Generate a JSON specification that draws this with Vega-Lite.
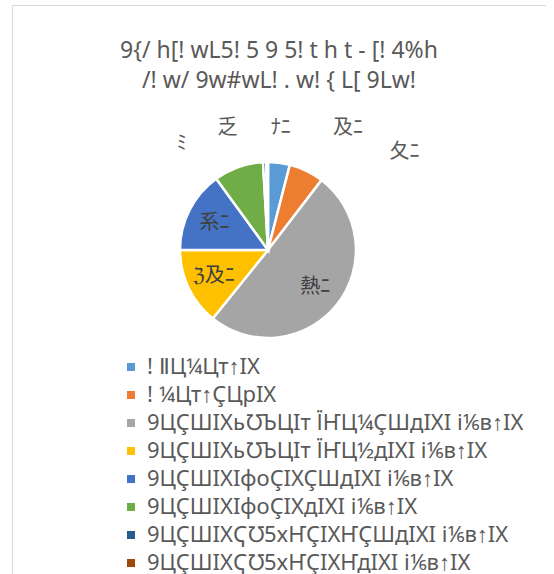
{
  "$schema": "https://vega.github.io/schema/vega-lite/v6.json",
  "autosize": "none",
  "width": 534,
  "height": 620,
  "padding": {"top": 5, "left": 12, "right": 0, "bottom": 0},
  "background": "white",
  "view": {"stroke": "#d9d9d9", "strokeWidth": 1, "fill": "white"},
  "title": {
    "text": ["9{/ h[!  wL5!  5 9 5!  t h t - [!  4%h", "/!  w/ 9w#wL!   .  w!  { L[ 9Lw!"],
    "orient": "top",
    "anchor": "middle",
    "offset": -88,
    "font": "Noto Sans",
    "fontSize": 23,
    "fontWeight": "normal",
    "color": "#595959",
    "lineHeight": 30
  },
  "data": {
    "values": [
      {"idx": 1, "cat": "! ⅡЦ¼Цт↑IX", "value": 4.0, "label": "及ﾆ"},
      {"idx": 2, "cat": "! ¼Цт↑ÇЦрIX", "value": 6.4, "label": "夂ﾆ"},
      {"idx": 3, "cat": "9ЦÇШIXь℧ЪЦIт ЇҤЦ¼ÇШдIXI i⅙в↑IX", "value": 50.4, "label": "熱ﾆ"},
      {"idx": 4, "cat": "9ЦÇШIXь℧ЪЦIт ЇҤЦ½дIXI i⅙в↑IX", "value": 14.2, "label": "ℨ及ﾆ"},
      {"idx": 5, "cat": "9ЦÇШIXIфоÇIXÇШдIXI i⅙в↑IX", "value": 15.0, "label": "系ﾆ"},
      {"idx": 6, "cat": "9ЦÇШIXIфоÇIXдIXI i⅙в↑IX", "value": 9.1, "label": "ﾐ"},
      {"idx": 7, "cat": "9ЦÇШIXҀ℧5xҤÇIXҤÇШдIXI i⅙в↑IX", "value": 0.6, "label": "乏"},
      {"idx": 8, "cat": "9ЦÇШIXҀ℧5xҤÇIXҤдIXI i⅙в↑IX", "value": 0.3, "label": "ﾅﾆ"}
    ]
  },
  "encoding": {
    "theta": {"field": "value", "type": "quantitative", "stack": true},
    "order": {"field": "idx", "type": "quantitative"}
  },
  "layer": [
    {
      "mark": {"type": "arc", "radius": 88, "stroke": "white", "strokeWidth": 2.5, "x": 256, "y": 245},
      "encoding": {
        "color": {
          "field": "cat",
          "type": "nominal",
          "scale": {
            "domain": ["! ⅡЦ¼Цт↑IX", "! ¼Цт↑ÇЦрIX", "9ЦÇШIXь℧ЪЦIт ЇҤЦ¼ÇШдIXI i⅙в↑IX", "9ЦÇШIXь℧ЪЦIт ЇҤЦ½дIXI i⅙в↑IX", "9ЦÇШIXIфоÇIXÇШдIXI i⅙в↑IX", "9ЦÇШIXIфоÇIXдIXI i⅙в↑IX", "9ЦÇШIXҀ℧5xҤÇIXҤÇШдIXI i⅙в↑IX", "9ЦÇШIXҀ℧5xҤÇIXҤдIXI i⅙в↑IX"],
            "range": ["#5B9BD5", "#ED7D31", "#A5A5A5", "#FFC000", "#4472C4", "#70AD47", "#255E91", "#9E480E"]
          },
          "legend": {
            "title": null,
            "orient": "none",
            "legendX": 108,
            "legendY": 351,
            "symbolType": "square",
            "symbolSize": 64,
            "symbolStrokeWidth": 0,
            "labelFont": "Noto Sans",
            "labelFontSize": 22,
            "labelColor": "#595959",
            "labelLimit": 500,
            "labelOffset": 5,
            "rowPadding": 6
          }
        }
      }
    },
    {
      "mark": {"type": "text", "radius": 60, "x": 256, "y": 245, "font": "Noto Sans CJK JP", "fontSize": 20, "color": "#404040"},
      "encoding": {"text": {"condition": {"test": "datum.idx == 3 || datum.idx == 4 || datum.idx == 5", "field": "label"}, "value": ""}}
    },
    {
      "mark": {"type": "text", "radius": 120, "x": 256, "y": 245, "dx": 65, "dy": -3, "font": "Noto Sans CJK JP", "fontSize": 20, "color": "#595959"},
      "encoding": {"text": {"condition": {"test": "datum.idx == 1", "field": "label"}, "value": ""}}
    },
    {
      "mark": {"type": "text", "radius": 120, "x": 256, "y": 245, "dx": 84, "dy": 10, "font": "Noto Sans CJK JP", "fontSize": 20, "color": "#595959"},
      "encoding": {"text": {"condition": {"test": "datum.idx == 2", "field": "label"}, "value": ""}}
    },
    {
      "mark": {"type": "text", "radius": 120, "x": 256, "y": 245, "dx": -46, "dy": 7, "font": "Noto Sans CJK JP", "fontSize": 20, "color": "#595959"},
      "encoding": {"text": {"condition": {"test": "datum.idx == 6", "field": "label"}, "value": ""}}
    },
    {
      "mark": {"type": "text", "radius": 120, "x": 256, "y": 245, "dx": -36, "dy": -2, "font": "Noto Sans CJK JP", "fontSize": 20, "color": "#595959"},
      "encoding": {"text": {"condition": {"test": "datum.idx == 7", "field": "label"}, "value": ""}}
    },
    {
      "mark": {"type": "text", "radius": 120, "x": 256, "y": 245, "dx": 14, "dy": -2, "font": "Noto Sans CJK JP", "fontSize": 20, "color": "#595959"},
      "encoding": {"text": {"condition": {"test": "datum.idx == 8", "field": "label"}, "value": ""}}
    }
  ]
}
